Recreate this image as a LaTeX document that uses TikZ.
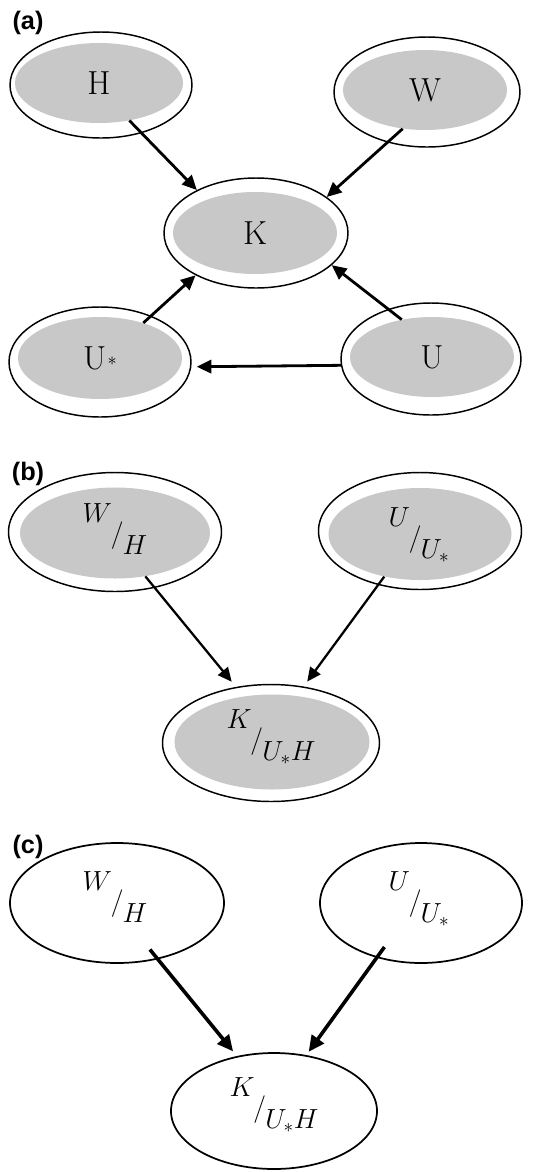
\documentclass[tikz,border=0pt]{standalone}
\usepackage{graphicx}
\usepackage{fontspec}
\usetikzlibrary{shapes.geometric,arrows.meta}
\newfontfamily\lblfont{Liberation Sans}
\definecolor{nodegray}{RGB}{200,200,200}
\newcommand{\frc}[2]{\raisebox{0.7em}{$#1$}\kern-0.04em$/$\kern-0.03em\raisebox{-0.42em}{$#2$}}
\newcommand{\ustar}{U\kern0.04em\raisebox{0.1em}{\scalebox{0.55}{$\ast$}}}
\begin{document}
\begin{tikzpicture}[x=0.75pt,y=-0.75pt,
  esize/.style 2 args={minimum width=#1*0.75pt, minimum height=#2*0.75pt},
  outerell/.style={ellipse, draw=black, line width=1.1pt, fill=white, inner sep=0pt},
  innerell/.style={ellipse, fill=nodegray, inner sep=0pt},
  plainell/.style={ellipse, draw=black, line width=1.3pt, fill=white, inner sep=0pt},
  lettxt/.style={font=\fontsize{25}{25}\selectfont},
  frctxt/.style={font=\fontsize{21}{21}\selectfont, inner sep=0pt},
  lbl/.style={font=\lblfont\bfseries\fontsize{19}{19}\selectfont, inner sep=0pt},
  arrA/.style={line width=2.1pt, -{Triangle[length=11pt,width=10pt]}},
  arrB/.style={line width=1.7pt, -{Triangle[length=10.5pt,width=9.5pt]}},
  arrC/.style={line width=2.7pt, -{Triangle[length=12pt,width=11pt]}}
]
\useasboundingbox (0,0) rectangle (536,1172);

% ---------- (a) ----------
\node[lbl] (la) at (28,23) {(a)};
\node[outerell, esize={182}{106}] (h) at (101,85) {};
\node[innerell, esize={168}{80}, lettxt] (hi) at (99,83) {H};
\node[outerell, esize={186}{110}] (w) at (427,92) {};
\node[innerell, esize={164}{80}, lettxt] (wi) at (425,90) {W};
\node[outerell, esize={184}{110}] (k) at (256,233) {};
\node[innerell, esize={164}{82}, lettxt] (ki) at (255,233) {K};
\node[outerell, esize={182}{110}] (us) at (100,362) {};
\node[innerell, esize={164}{82}, lettxt] (usi) at (100,358) {\ustar};
\node[outerell, esize={180}{112}] (u) at (431,359) {};
\node[innerell, esize={164}{80}, lettxt] (ui) at (432,357) {U};

\draw[arrA] (hi.-51) -- (k.144);
\draw[arrA] (wi.-120) -- (k.27.5);
\draw[arrA] (usi.39) -- (k.215);
\draw[arrA] (ui.129) -- (k.-23);
\draw[arrA, shorten >=4pt] (u.184) -- (us.-3);

% ---------- (b) ----------
\node[lbl] (lb) at (28,474) {(b)};
\node[outerell, esize={213}{119}] (bw) at (115,532) {};
\node[innerell, esize={190}{91}] (bwi) at (115,533) {};
\node[frctxt] (bwt) at (115,529) {\frc{W}{H}};
\node[outerell, esize={203}{117}] (bu) at (420,531) {};
\node[innerell, esize={183}{92}] (bui) at (420,534) {};
\node[frctxt] (but) at (419,535) {\frc{U}{U_{*}}};
\node[outerell, esize={217}{117}] (bk) at (271,743) {};
\node[innerell, esize={195}{95}] (bki) at (272,742) {};
\node[frctxt] (bkt) at (271,737) {\frc{K}{U_{*}H}};

\draw[arrB, shorten >=5pt] (bwi.-55.5) -- (bk.122);
\draw[arrB, shorten >=4.5pt] (bui.-130.4) -- (bk.60.9);

% ---------- (c) ----------
\node[lbl] (lc) at (28,847) {(c)};
\node[plainell, esize={214}{120}] (cw) at (117,903) {};
\node[frctxt] (cwt) at (115,897) {\frc{W}{H}};
\node[plainell, esize={202}{120}] (cu) at (421,903) {};
\node[frctxt] (cut) at (419,899) {\frc{U}{U_{*}}};
\node[plainell, esize={206}{116}] (ck) at (274,1111) {};
\node[frctxt] (ckt) at (274,1105) {\frc{K}{U_{*}H}};

\draw[arrC, shorten <=-9.5pt, shorten >=4.5pt] (cw.-54.6) -- (ck.124.8);
\draw[arrC, shorten <=-10pt, shorten >=3pt] (cu.-129.1) -- (ck.60.8);
\end{tikzpicture}
\end{document}
